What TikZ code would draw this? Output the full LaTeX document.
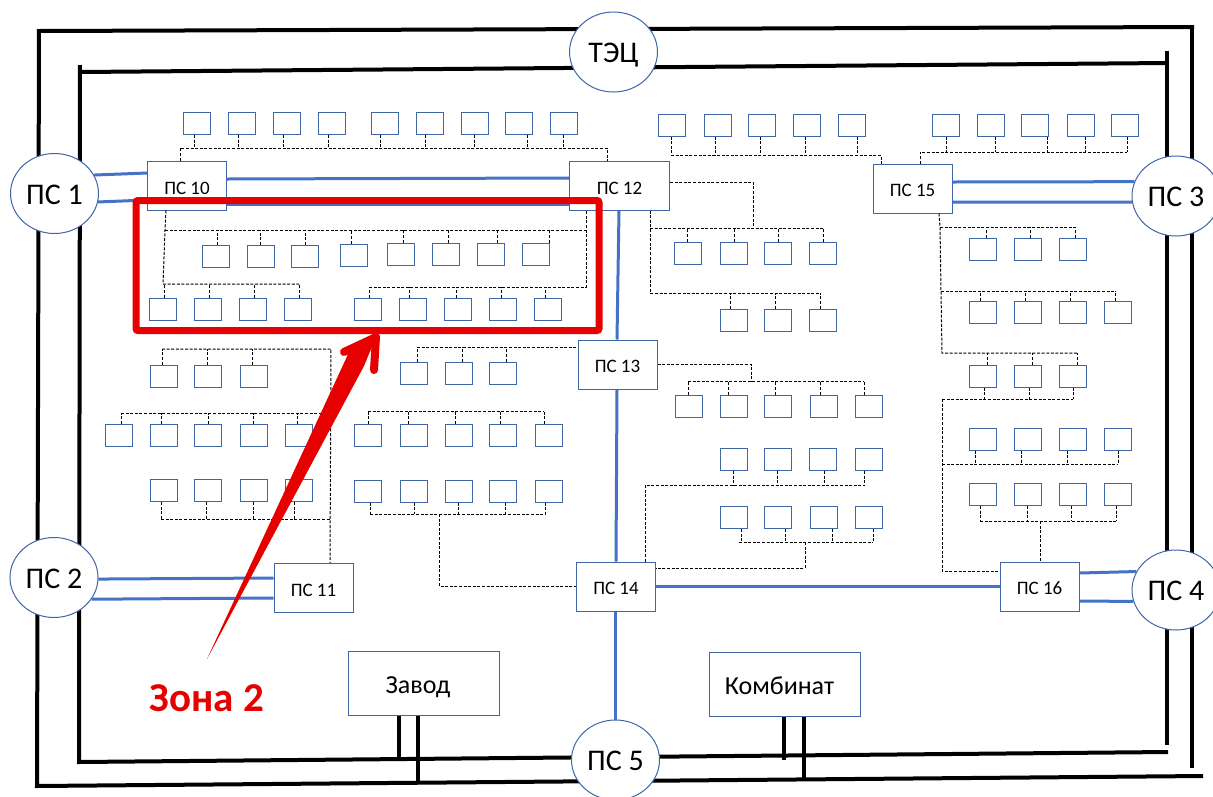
\documentclass[tikz,border=0pt]{standalone}
\usepackage{fontspec}
\usepackage[dvipsnames]{xcolor}
\usetikzlibrary{shapes.geometric}
\setmainfont{Carlito}
\definecolor{edgeblue}{HTML}{3F66A6}
\definecolor{tieblue}{HTML}{4472C4}
\definecolor{zonered}{HTML}{E60000}

\tikzset{
    cell/.style={draw=edgeblue, fill=white, line width=1pt, minimum width=27pt, minimum height=22pt, inner sep=0pt},
    substation/.style={draw=edgeblue, fill=white, line width=1pt, minimum width=79pt, minimum height=49pt, inner sep=0pt, text height=16pt, text depth=0pt, font=\fontsize{19}{19}\selectfont},
    plant/.style={draw=edgeblue, fill=white, line width=1pt, minimum width=151pt, minimum height=64pt, inner sep=0pt, text height=20pt, text depth=0pt, font=\fontsize{26}{26}\selectfont},
    station/.style={ellipse, draw=edgeblue, fill=white, line width=1pt, minimum width=88pt, minimum height=80pt, inner sep=0pt, text height=21pt, text depth=0pt, font=\fontsize{30}{30}\selectfont},
    feed/.style={draw=black, line width=1pt, dash pattern=on 3pt off 1.6pt},
    tie/.style={draw=tieblue, line width=3pt},
    ring/.style={draw=black, line width=4pt}
}

\begin{document}
\begin{tikzpicture}[x=1pt, y=-1pt]
    \useasboundingbox (0,0) rectangle (1213,796);
    % black rings
    \coordinate (outerNW) at (39,31);
    \coordinate (outerNE) at (1194,27);
    \coordinate (outerSW) at (37,786);
    \coordinate (outerSE) at (1203,776);
    \coordinate (outerE) at (1192,768);
    \coordinate (innerNW) at (80,72);
    \coordinate (innerNE) at (1168,63);
    \coordinate (innerSW) at (79,762);
    \coordinate (innerSE) at (1168,752);
    \coordinate (innerN) at (1167,51);
    \coordinate (innerS) at (1167,745);
    \draw[ring] (outerNW) -- (outerNE);
    \draw[ring] (39,29) -- (outerSW) -- (outerSE);
    \draw[ring] (1192,29) -- (outerE);
    \draw[ring] (innerNW) -- (innerNE);
    \draw[ring] (80,65) -- (innerSW) -- (innerSE);
    \draw[ring] (innerN) -- (innerS);

    % stations
    \node[station] (tec) at (613.5,52) {ТЭЦ};
    \node[station] (ps1) at (54.5,193.5) {ПС 1};
    \node[station] (ps2) at (54,577.5) {ПС 2};
    \node[station] (ps3) at (1176,196) {ПС 3};
    \node[station] (ps4) at (1176,590) {ПС 4};
    \node[station] (ps5) at (615.5,760) {ПС 5};

    % substations
    \node[substation, text height=18pt] (ps10) at (187,185.5) {ПС 10};
    \node[substation] (ps11) at (313.5,588) {ПС 11};
    \node[substation, text height=18pt, minimum width=100pt] (ps12) at (619.5,185.5) {ПС 12};
    \node[substation] (ps13) at (617.5,364.5) {ПС 13};
    \node[substation] (ps14) at (616,586.5) {ПС 14};
    \node[substation] (ps15) at (912.5,188.5) {ПС 15};
    \node[substation] (ps16) at (1039.5,586.5) {ПС 16};
    \node[plant] (zavod) at (423.5,683) {Завод\hspace*{11pt}};
    \node[plant] (kombinat) at (785,684) {Комбинат\hspace*{11pt}};

    % blue ties
    \draw[tie] (ps1.25) -- (ps10.west |- 0,173);
    \draw[tie] (ps1.-11) -- (ps10.west |- 0,200);
    \draw[tie] (ps10.east |- 0,179) -- (ps12.west |- 0,178);
    \draw[tie] (ps10.east |- 0,204) -- (ps12.west |- 0,204);
    \draw[tie] (ps12.south -| 619,0) -- (ps13.north -| 617,0);
    \draw[tie] (ps13.south -| 617,0) -- (ps14.north -| 616,0);
    \draw[tie] (ps14.south -| 615.5,0) -- (ps5.north);
    \draw[tie] (ps14.east |- 0,586) -- (ps16.west |- 0,586);
    \draw[tie] (ps2.-2) -- (ps11.west |- 0,578);
    \draw[tie] (ps2.-30) -- (ps11.west |- 0,598);
    \draw[tie] (ps15.east |- 0,182) -- (ps3.161);
    \draw[tie] (ps15.east |- 0,202) -- (ps3.188);
    \draw[tie] (ps16.east |- 0,573) -- (ps4.155);
    \draw[tie] (ps16.east |- 0,601) -- (ps4.195);

    % plant feeds
    \coordinate (tapza) at (399,760);
    \coordinate (tapzb) at (418,783);
    \coordinate (tapka) at (784,760);
    \coordinate (tapkb) at (804,780);
    \draw[ring] (zavod.south -| tapza) -- (tapza);
    \draw[ring] (zavod.south -| tapzb) -- (tapzb);
    \draw[ring] (kombinat.south -| tapka) -- (tapka);
    \draw[ring] (kombinat.south -| tapkb) -- (tapkb);

    % ps 10 and ps 12
    \coordinate (busta) at (180,148);
    \foreach \i/\x/\u in {1/197/194, 2/242/238, 3/287/283, 4/332/328, 5/385/380, 6/430/425, 7/475/474, 8/519/527, 9/564/563}{
        \node[cell] (ta\i) at (\x,123.5) {};
        \draw[feed] (ta\i.south -| \u,0) -- (busta -| \u,0);
    }
    \draw[feed] (ps10.north -| busta) -- (busta) -- (busta -| 607,0) -- (ps12.north -| 607,0);
    \coordinate (bustb) at (165,230);
    \foreach \i/\x/\y/\u in {1/216/256.5/217, 2/261/256.5/260, 3/305/256.5/305, 4/354/255/351, 5/401/254/403, 6/446/254/448, 7/491/254/497, 8/536/254/549}{
        \node[cell] (tb\i) at (\x,\y) {};
        \draw[feed] (tb\i.north -| \u,0) -- (bustb -| \u,0);
    }
    \coordinate (bustc) at (163,284);
    \foreach \i/\x/\u in {1/163/164, 2/208/209, 3/253/254, 4/298/299}{
        \node[cell] (tc\i) at (\x,309) {};
        \draw[feed] (tc\i.north -| \u,0) -- (bustc -| \u,0);
    }
    \draw[feed] (ps10.south -| 166,0) -- (bustb) -- (bustc) -- (bustc -| 299,0);
    \draw[feed] (bustb) -- (bustb -| 586,0);
    \coordinate (bustd) at (369,287);
    \foreach \i/\x/\u in {1/368/369, 2/413/409, 3/458/456, 4/503/501, 5/548/545}{
        \node[cell] (td\i) at (\x,309) {};
        \draw[feed] (td\i.north -| \u,0) -- (bustd -| \u,0);
    }
    \draw[feed] (bustd) -- (bustd -| 586,0) -- (ps12.south -| 586,0);

    % ps 11
    \coordinate (busua) at (162,349);
    \foreach \i/\x/\u in {1/163.5/162, 2/208/207, 3/253.5/252}{
        \node[cell] (ua\i) at (\x,376) {};
        \draw[feed] (ua\i.north -| \u,0) -- (busua -| \u,0);
    }
    \coordinate (busub) at (121,413);
    \foreach \i/\x/\u in {1/118.5/121, 2/163.5/161, 3/208/208, 4/253.5/253, 5/299/297}{
        \node[cell] (ub\i) at (\x,435.5) {};
        \draw[feed] (ub\i.north -| \u,0) -- (busub -| \u,0);
    }
    \coordinate (busuc) at (161,519);
    \foreach \i/\x/\u in {1/163.5/161, 2/208/206, 3/253.5/253, 4/299/294}{
        \node[cell] (uc\i) at (\x,490.5) {};
        \draw[feed] (uc\i.south -| \u,0) -- (busuc -| \u,0);
    }
    \draw[feed] (busua) -- (busua -| 331,0) -- (ps11.north -| 330,0);
    \draw[feed] (busub) -- (busub -| 331,0);
    \draw[feed] (busuc) -- (busuc -| 331,0);

    % left of ps 13 and ps 14
    \coordinate (busva) at (417,347);
    \foreach \i/\x/\u in {1/413.5/417, 2/458.5/462, 3/503/506}{
        \node[cell] (va\i) at (\x,373) {};
        \draw[feed] (va\i.north -| \u,0) -- (busva -| \u,0);
    }
    \draw[feed] (busva) -- (ps13.west |- busva);
    \coordinate (busvb) at (368,411);
    \foreach \i/\x/\u in {1/368/368, 2/413.5/408, 3/458.5/455, 4/503/500, 5/548.5/544}{
        \node[cell] (vb\i) at (\x,435.5) {};
        \draw[feed] (vb\i.north -| \u,0) -- (busvb -| \u,0);
    }
    \draw[feed] (busvb) -- (busvb -| 544,0);
    \coordinate (busvc) at (370,514);
    \foreach \i/\x/\u in {1/368/370, 2/413.5/414, 3/458.5/458, 4/503/505, 5/548.5/545}{
        \node[cell] (vc\i) at (\x,491) {};
        \draw[feed] (vc\i.south -| \u,0) -- (busvc -| \u,0);
    }
    \draw[feed] (busvc) -- (busvc -| 545,0);
    \draw[feed] (busvc -| 439,0) -- (439,586) -- (ps14.west |- 0,586);

    % middle column
    \coordinate (buswa) at (671,155);
    \foreach \i/\x/\u in {1/672/671, 2/717.5/715, 3/762/760, 4/807/805, 5/852/857}{
        \node[cell] (wa\i) at (\x,125) {};
        \draw[feed] (wa\i.south -| \u,0) -- (buswa -| \u,0);
    }
    \draw[feed] (buswa) -- (buswa -| 881,0) -- (ps15.north -| 881,0);
    \coordinate (buswb) at (650,228);
    \foreach \i/\x/\u in {1/688/687, 2/733.5/734, 3/778/778, 4/823/823}{
        \node[cell] (wb\i) at (\x,253) {};
        \draw[feed] (wb\i.north -| \u,0) -- (buswb -| \u,0);
    }
    \draw[feed] (buswb) -- (buswb -| 823,0);
    \draw[feed] (ps12.east |- 0,182) -- (753,182) -- (buswb -| 753,0);
    \coordinate (buswc) at (650,293);
    \foreach \i/\x/\u in {1/733.5/730, 2/778/775, 3/823/820}{
        \node[cell] (wc\i) at (\x,320) {};
        \draw[feed] (wc\i.north -| \u,0) -- (buswc -| \u,0);
    }
    \draw[feed] (ps12.south -| 650,0) -- (buswc) -- (buswc -| 820,0);
    \coordinate (buswd) at (688,381);
    \foreach \i/\x/\u in {1/688.5/688, 2/734/728, 3/778/775, 4/823.5/820, 5/869/864}{
        \node[cell] (wd\i) at (\x,406) {};
        \draw[feed] (wd\i.north -| \u,0) -- (buswd -| \u,0);
    }
    \draw[feed] (buswd) -- (buswd -| 864,0);
    \draw[feed] (ps13.east |- 0,364) -- (751,364) -- (buswd -| 751,0);
    \coordinate (buswe) at (645,485);
    \foreach \i/\x/\u in {1/733.5/733, 2/778/777, 3/823/824, 4/868.5/864}{
        \node[cell] (we\i) at (\x,459.5) {};
        \draw[feed] (we\i.south -| \u,0) -- (buswe -| \u,0);
    }
    \draw[feed] (ps14.north -| 645,0) -- (buswe) -- (buswe -| 864,0);
    \coordinate (buswf) at (739,542);
    \foreach \i/\x/\u in {1/734/741, 2/778/785, 3/823.5/832, 4/869/873}{
        \node[cell] (wf\i) at (\x,517.5) {};
        \draw[feed] (wf\i.south -| \u,0) -- (buswf -| \u,0);
    }
    \draw[feed] (buswf) -- (buswf -| 873,0);
    \draw[feed] (buswf -| 805,0) -- (805,568) -- (ps14.east |- 0,568);

    % ps 15 and ps 16
    \coordinate (busxa) at (920,152);
    \foreach \i/\x/\u in {1/946/946, 2/991/995, 3/1035/1047, 4/1080.5/1085, 5/1125/1127}{
        \node[cell] (xa\i) at (\x,125) {};
        \draw[feed] (xa\i.south -| \u,0) -- (busxa -| \u,0);
    }
    \draw[feed] (ps15.north -| busxa) -- (busxa) -- (busxa -| 1127,0);
    \coordinate (busxb) at (940,227);
    \foreach \i/\x/\u in {1/983/986, 2/1028/1030, 3/1073/1075}{
        \node[cell] (xb\i) at (\x,249) {};
        \draw[feed] (xb\i.north -| \u,0) -- (busxb -| \u,0);
    }
    \coordinate (busxc) at (941,291);
    \foreach \i/\x/\u in {1/983/980, 2/1028/1025, 3/1073/1070, 4/1118/1115}{
        \node[cell] (xc\i) at (\x,312) {};
        \draw[feed] (xc\i.north -| \u,0) -- (busxc -| \u,0);
    }
    \coordinate (busxd) at (942,353);
    \coordinate (busxe) at (942,399);
    \foreach \i/\x/\u/\t in {1/983/987/984, 2/1028/1032/1029, 3/1073/1077/1073}{
        \node[cell] (xd\i) at (\x,376) {};
        \draw[feed] (xd\i.north -| \u,0) -- (busxd -| \u,0);
        \draw[feed] (xd\i.south -| \t,0) -- (busxe -| \t,0);
    }
    \draw[feed] (ps15.south -| 939,0) -- (busxb) -- (busxc) -- (busxd) -- (busxd -| 1077,0);
    \draw[feed] (busxb) -- (busxb -| 1075,0);
    \draw[feed] (busxc) -- (busxc -| 1115,0);
    \draw[feed] (busxe) -- (busxe -| 1073,0);
    \coordinate (busxf) at (942,464);
    \foreach \i/\x/\u in {1/983/975, 2/1028/1021, 3/1073/1067, 4/1118/1118}{
        \node[cell] (xf\i) at (\x,439) {};
        \draw[feed] (xf\i.south -| \u,0) -- (busxf -| \u,0);
    }
    \draw[feed] (busxf) -- (busxf -| 1118,0);
    \coordinate (busxg) at (980,521);
    \foreach \i/\x/\u in {1/983/980, 2/1028/1027, 3/1073/1071, 4/1118/1116}{
        \node[cell] (xg\i) at (\x,494.5) {};
        \draw[feed] (xg\i.south -| \u,0) -- (busxg -| \u,0);
    }
    \draw[feed] (busxg) -- (busxg -| 1118,0);
    \draw[feed] (busxg -| 1040,0) -- (ps16.north -| 1040,0);
    \draw[feed] (busxe) -- (942,571) -- (ps16.west |- 0,571);

    % zone 2
    \node[draw=zonered, line width=7pt, rounded corners=2pt, minimum width=463pt, minimum height=130pt, inner sep=0pt] (zone) at (367.5,265.5) {};
    \node[font=\fontsize{41}{41}\selectfont\bfseries, text=zonered] (zonelabel) at (207,698) {Зона 2};
    \coordinate (arrowfoot) at (207,659);
    \coordinate (arrowtip) at (376,337);
    \fill[zonered] (arrowfoot) -- (350,350) -- (arrowtip) -- (364,366) -- cycle;
    \draw[zonered, line width=8pt, line cap=round, line join=round] (344,352) -- (arrowtip) -- (374,370);
\end{tikzpicture}
\end{document}
